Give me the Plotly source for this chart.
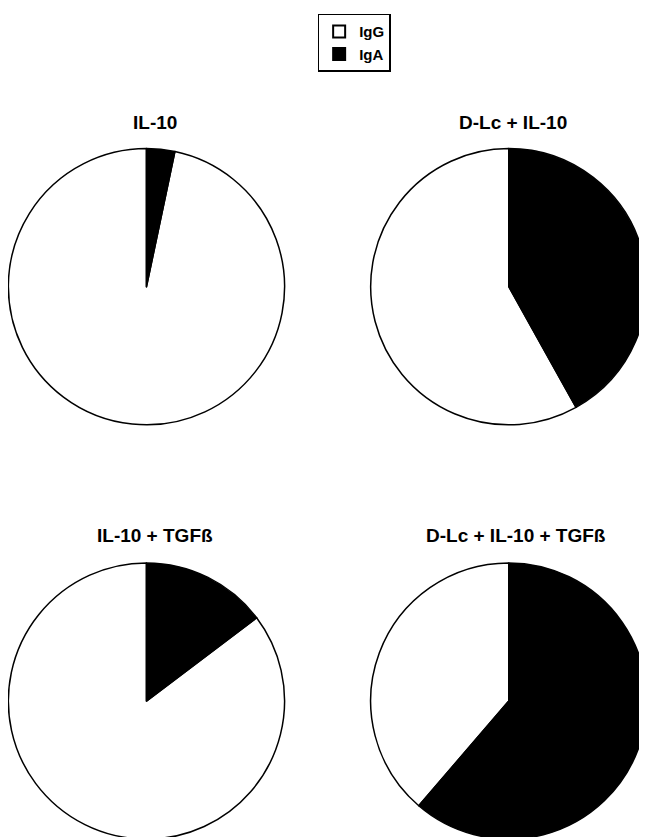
import plotly.graph_objects as go

# IgG / IgA share (%) per condition
conditions = ["IL-10", "D-Lc + IL-10", "IL-10 + TGF\u00df", "D-Lc + IL-10 + TGF\u00df"]
igg = [96.7, 58.1, 85.3, 38.7]
iga = [3.3, 41.9, 14.7, 61.3]
labels = ["IgG", "IgA"]

domains = [
    dict(x=[0.0, 0.428], y=[0.502, 0.832]),
    dict(x=[0.560, 0.988], y=[0.502, 0.832]),
    dict(x=[0.0, 0.428], y=[0.007, 0.337]),
    dict(x=[0.560, 0.988], y=[0.007, 0.337]),
]
title_x = [0.227, 0.78, 0.227, 0.785]
title_y = [0.848, 0.848, 0.355, 0.355]

fig = go.Figure()
for i, name in enumerate(conditions):
    # start IgG where IgA ends so IgA sweeps clockwise from 12 o'clock
    start = 360 * iga[i] / (igg[i] + iga[i])
    fig.add_trace(go.Pie(
        labels=labels, values=[igg[i], iga[i]], sort=False,
        direction="clockwise", rotation=start,
        marker=dict(colors=["white", "black"], line=dict(color="black", width=1.5)),
        textinfo="none", hoverinfo="label+percent",
        domain=domains[i], showlegend=(i == 0),
    ))
    fig.add_annotation(text="<b>" + name + "</b>", x=title_x[i],
                       y=title_y[i], xref="paper", yref="paper", showarrow=False,
                       xanchor="center", yanchor="bottom",
                       font=dict(size=19, color="black"))

fig.update_layout(
    width=647, height=837, margin=dict(l=0, r=0, t=0, b=0),
    paper_bgcolor="white", plot_bgcolor="white",
    font=dict(family="Liberation Sans, Arial, sans-serif", color="black"),
    legend=dict(x=0.535, xanchor="center", y=0.993, yanchor="top",
                bordercolor="black", borderwidth=1.5, bgcolor="white",
                font=dict(size=15, family="Liberation Sans, Arial", weight="bold"),
                traceorder="normal", itemsizing="constant"),
)
fig.write_html("out.html")
